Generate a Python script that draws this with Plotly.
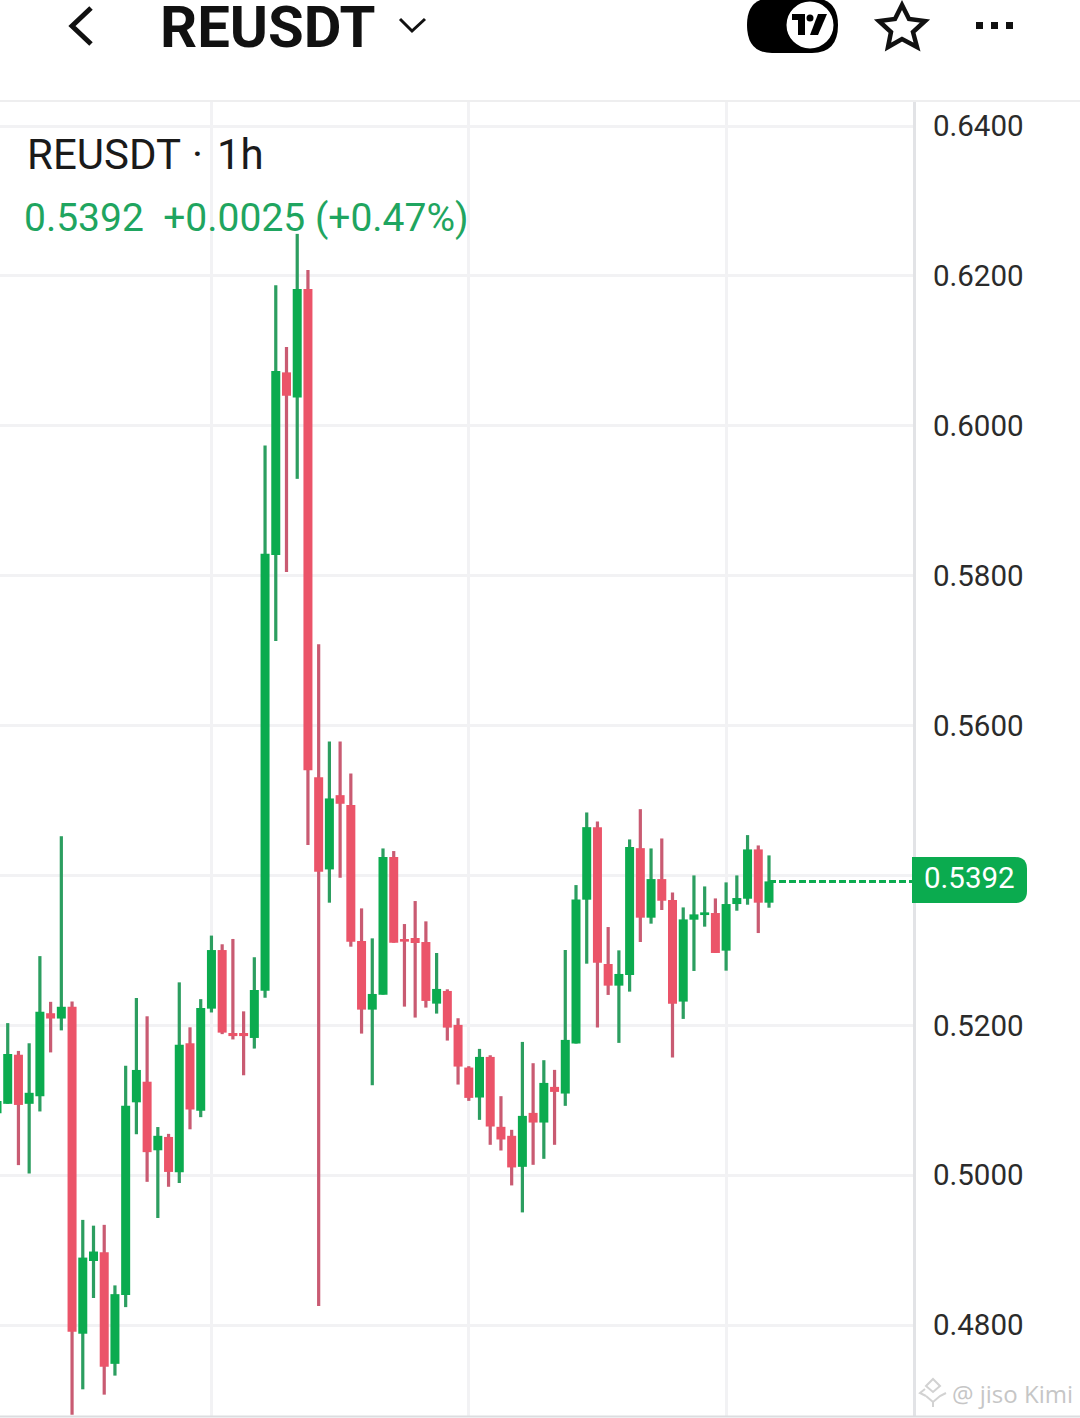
import plotly.graph_objects as go

# hourly candles (first one is cut by the left edge)
candle_idx = list(range(-1, 72))
open_ = [
    0.50825, 0.50952, 0.51607, 0.50952, 0.51054, 0.52161, 0.52090, 0.52247, 0.47884, 0.48854,
    0.48971, 0.47482, 0.48402, 0.50972, 0.51247, 0.50332, 0.50510, 0.50038, 0.51760, 0.50861,
    0.52222, 0.53004, 0.51897, 0.51897, 0.51831, 0.52462, 0.58276, 0.60713, 0.60379, 0.61826,
    0.55311, 0.54080, 0.55071, 0.54938, 0.53125, 0.52209, 0.52409, 0.54245, 0.53151, 0.53165,
    0.53111, 0.52289, 0.52458, 0.52005, 0.51436, 0.51036, 0.51578, 0.50645, 0.50525, 0.50111,
    0.50831, 0.50702, 0.51178, 0.51089, 0.51756, 0.53676, 0.54644, 0.52818, 0.52529, 0.52671,
    0.54364, 0.53436, 0.53951, 0.53671, 0.52316, 0.53409, 0.53471, 0.53498, 0.52996, 0.53618,
    0.53689, 0.54347, 0.53636,
]
high = [
    0.50988, 0.52029, 0.51658, 0.51760, 0.52923, 0.52313, 0.54523, 0.52319, 0.49403, 0.49326,
    0.49337, 0.48529, 0.51460, 0.52364, 0.52120, 0.50642, 0.50551, 0.52573, 0.51973, 0.52349,
    0.53197, 0.53081, 0.53152, 0.52186, 0.52908, 0.59737, 0.61875, 0.61051, 0.62561, 0.62080,
    0.57084, 0.55787, 0.55787, 0.55360, 0.53560, 0.53160, 0.54360, 0.54325, 0.53351, 0.53658,
    0.53387, 0.52965, 0.52480, 0.52094, 0.51454, 0.51685, 0.51600, 0.51054, 0.50605, 0.51778,
    0.51494, 0.51534, 0.51405, 0.53005, 0.53871, 0.54840, 0.54720, 0.53311, 0.53000, 0.54480,
    0.54884, 0.54360, 0.54493, 0.53773, 0.53573, 0.54000, 0.53853, 0.53693, 0.53907, 0.54000,
    0.54538, 0.54400, 0.54267,
]
low = [
    0.50825, 0.50952, 0.50134, 0.50022, 0.50850, 0.51638, 0.51932, 0.46802, 0.47142, 0.48361,
    0.47071, 0.47325, 0.48239, 0.50546, 0.49911, 0.49428, 0.49845, 0.49895, 0.50612, 0.50774,
    0.52171, 0.51882, 0.51811, 0.51333, 0.51689, 0.52369, 0.57129, 0.58049, 0.59292, 0.54405,
    0.48254, 0.53636, 0.53969, 0.53049, 0.51889, 0.51200, 0.52409, 0.53102, 0.52249, 0.52103,
    0.52236, 0.52156, 0.51796, 0.51209, 0.50991, 0.50738, 0.50405, 0.50329, 0.49863, 0.49503,
    0.50138, 0.50218, 0.50405, 0.50925, 0.51756, 0.52822, 0.51969, 0.52405, 0.51765, 0.52449,
    0.53111, 0.53356, 0.53538, 0.51569, 0.52085, 0.52725, 0.53316, 0.52965, 0.52729, 0.53529,
    0.53609, 0.53231, 0.53569,
]
close = [
    0.50988, 0.51617, 0.50937, 0.51099, 0.52181, 0.52090, 0.52247, 0.47909, 0.48900, 0.48981,
    0.47442, 0.48412, 0.50927, 0.51404, 0.50307, 0.50525, 0.50043, 0.51739, 0.50876, 0.52232,
    0.53004, 0.51902, 0.51856, 0.51856, 0.52471, 0.58294, 0.60731, 0.60401, 0.61826, 0.55404,
    0.54049, 0.55027, 0.54956, 0.53116, 0.52209, 0.52418, 0.54245, 0.53102, 0.53116, 0.53098,
    0.52325, 0.52485, 0.51969, 0.51449, 0.51031, 0.51578, 0.50649, 0.50476, 0.50103, 0.50791,
    0.50702, 0.51231, 0.51111, 0.51805, 0.53680, 0.54644, 0.52836, 0.52529, 0.52685, 0.54378,
    0.53436, 0.53951, 0.53662, 0.52289, 0.53413, 0.53480, 0.53507, 0.52965, 0.53618, 0.53698,
    0.54347, 0.53636, 0.53920,
]
price_ticks = [0.48, 0.50, 0.52, 0.54, 0.56, 0.58, 0.60, 0.62, 0.64]
price_labels = ["0.4800", "0.5000", "0.5200", "", "0.5600", "0.5800", "0.6000", "0.6200", "0.6400"]
day_ticks = [19, 43, 67]
last_price = "0.5392"
change_text = "0.5392  +0.0025 (+0.47%)"

W, H = 1080, 1418
PLOT_L, PLOT_R, PLOT_T, PLOT_B = 0, 913, 102, 1416

UP, DOWN = "#0bab4f", "#eb5469"
UP_WICK, DOWN_WICK = "#2c9e60", "#c95b72"
GRID = "#f2f2f4"
EDGE = "#e2e3e6"
INK = "#111111"
MARK = "#d2d2d2"


def px(x):
    return (x - PLOT_L) / (PLOT_R - PLOT_L)


def py(y):
    return (PLOT_B - y) / (PLOT_B - PLOT_T)


def path(points, closed=False):
    d = "M" + " L".join(f"{px(x):.5f},{py(y):.5f}" for x, y in points)
    return d + (" Z" if closed else "")


def chrome(d, fill=None, line=None, width=0):
    return dict(
        type="path", xref="paper", yref="paper", path=d, layer="above",
        fillcolor=fill if fill else "rgba(0,0,0,0)",
        line=dict(color=line if line else "rgba(0,0,0,0)", width=width),
    )


def circle(cx, cy, r, fill, line=None, width=0):
    return dict(
        type="circle", xref="paper", yref="paper", layer="above",
        x0=px(cx - r), x1=px(cx + r), y0=py(cy + r), y1=py(cy - r),
        fillcolor=fill, line=dict(color=line if line else "rgba(0,0,0,0)", width=width),
    )


def label(x, y, text, size, color, family="Roboto", **kw):
    return dict(
        xref="paper", yref="paper", x=px(x), y=py(y), text=text, showarrow=False,
        xanchor="left", yanchor="middle", borderpad=0,
        font=dict(family=family, size=size, color=color), **kw,
    )


rising = [c >= o for o, c in zip(open_, close)]

fig = go.Figure()

# wicks under the bodies, they are a duller colour than the bodies
fig.add_trace(go.Bar(
    x=candle_idx,
    y=[h - l for h, l in zip(high, low)],
    base=low,
    width=0.3,
    marker_color=[UP_WICK if r else DOWN_WICK for r in rising],
    marker_line_width=0,
    hoverinfo="skip",
))
fig.add_trace(go.Bar(
    x=candle_idx,
    y=[abs(c - o) for o, c in zip(open_, close)],
    base=[min(o, c) for o, c in zip(open_, close)],
    width=0.84,
    marker_color=[UP if r else DOWN for r in rising],
    marker_line_width=0,
    hoverinfo="skip",
))

# last price dashes running to the axis
fig.add_trace(go.Scatter(
    x=[candle_idx[-1], 85],
    y=[close[-1], close[-1]],
    mode="lines",
    line=dict(color=UP, width=3, dash="7px,3px"),
    hoverinfo="skip",
))

shapes = [
    # frame lines run on under the price scale
    dict(type="line", xref="paper", yref="paper", x0=0, x1=px(W), y0=py(101), y1=py(101),
         line=dict(color="#eeeeef", width=2)),
    dict(type="line", xref="paper", yref="paper", x0=0, x1=px(W), y0=py(1416.5), y1=py(1416.5),
         line=dict(color="#dcdde0", width=2)),
    # back and dropdown chevrons
    chrome(path([(91, 8), (72, 26), (91, 44)]), line=INK, width=5),
    chrome(path([(400, 19), (412, 31), (425, 19)]), line=INK, width=3),
    # chart toggle
    chrome(
        f"M{px(772):.5f},{py(-2):.5f} L{px(812):.5f},{py(-2):.5f} "
        f"Q{px(838):.5f},{py(-2):.5f} {px(838):.5f},{py(25):.5f} "
        f"Q{px(838):.5f},{py(53):.5f} {px(812):.5f},{py(53):.5f} "
        f"L{px(772):.5f},{py(53):.5f} Q{px(747):.5f},{py(53):.5f} {px(747):.5f},{py(25):.5f} "
        f"Q{px(747):.5f},{py(-2):.5f} {px(772):.5f},{py(-2):.5f} Z",
        fill="#000000",
    ),
    circle(810, 25, 23.5, "#ffffff"),
    chrome(path([(792, 14), (805, 14), (805, 35), (798, 35), (798, 20), (792, 20)], True), fill="#000000"),
    circle(810, 18, 3.5, "#000000"),
    chrome(path([(818, 14), (827, 14), (818, 35), (810, 35)], True), fill="#000000"),
    # favourite star
    chrome(path([(902, 5), (909, 19), (925, 21), (913, 32), (917, 47), (902, 39),
                 (888, 47), (891, 32), (879, 21), (895, 19)], True), line=INK, width=4.5),
    # more menu dots
    chrome(path([(976, 22), (983, 22), (983, 29), (976, 29)], True), fill=INK),
    chrome(path([(991, 22), (998, 22), (998, 29), (991, 29)], True), fill=INK),
    chrome(path([(1006, 22), (1013, 22), (1013, 29), (1006, 29)], True), fill=INK),
    # last price tag
    chrome(
        f"M{px(912):.5f},{py(857):.5f} L{px(1015):.5f},{py(857):.5f} "
        f"Q{px(1027):.5f},{py(857):.5f} {px(1027):.5f},{py(869):.5f} "
        f"L{px(1027):.5f},{py(891):.5f} Q{px(1027):.5f},{py(903):.5f} {px(1015):.5f},{py(903):.5f} "
        f"L{px(912):.5f},{py(903):.5f} Z",
        fill=UP,
    ),
    # watermark logo
    chrome(path([(933, 1379), (940, 1386), (933, 1392), (926, 1386)], True), line=MARK, width=2),
    chrome(path([(926, 1396), (933, 1402), (940, 1396), (946, 1393)]), line=MARK, width=2),
    chrome(path([(926, 1396), (920, 1393), (925, 1389)]), line=MARK, width=2),
    chrome(path([(933, 1402), (933, 1407)]), line=MARK, width=2),
]

annotations = [
    label(159, 27, "<b>REUSDT</b>", 58, INK, height=52),
    label(26, 154, "REUSDT", 42, "#1a1a1a"),
    label(191, 154, "·", 42, "#1a1a1a"),
    label(216, 154, "1h", 42, "#1a1a1a"),
    label(23, 218, change_text, 39, "#1fa560"),
    label(923, 878, last_price, 29.5, "#ffffff"),
    label(951, 1393, "@ jiso Kimi", 24, "#c6c6c6", family="Open Sans"),
]

fig.update_layout(
    width=W,
    height=H,
    margin=dict(l=PLOT_L, r=W - PLOT_R, t=PLOT_T, b=H - PLOT_B, pad=0),
    paper_bgcolor="#ffffff",
    plot_bgcolor="#ffffff",
    barmode="overlay",
    showlegend=False,
    shapes=shapes,
    annotations=annotations,
    xaxis=dict(
        range=[-0.72, 84.43],
        tickvals=day_ticks,
        showticklabels=False,
        ticks="",
        showgrid=True,
        gridcolor=GRID,
        gridwidth=2.5,
        zeroline=False,
    ),
    yaxis=dict(
        range=[0.46786, 0.64321],
        side="right",
        tickvals=price_ticks,
        ticktext=price_labels,
        ticks="",
        ticklabelstandoff=11,
        tickfont=dict(family="Roboto", size=29.5, color="#2b2b2b"),
        showgrid=True,
        gridcolor=GRID,
        gridwidth=2.5,
        zeroline=False,
        showline=True,
        linecolor=EDGE,
        linewidth=3,
    ),
)

fig.write_html("out.html", post_script="document.body.style.margin='0';", config={"displayModeBar": False})
